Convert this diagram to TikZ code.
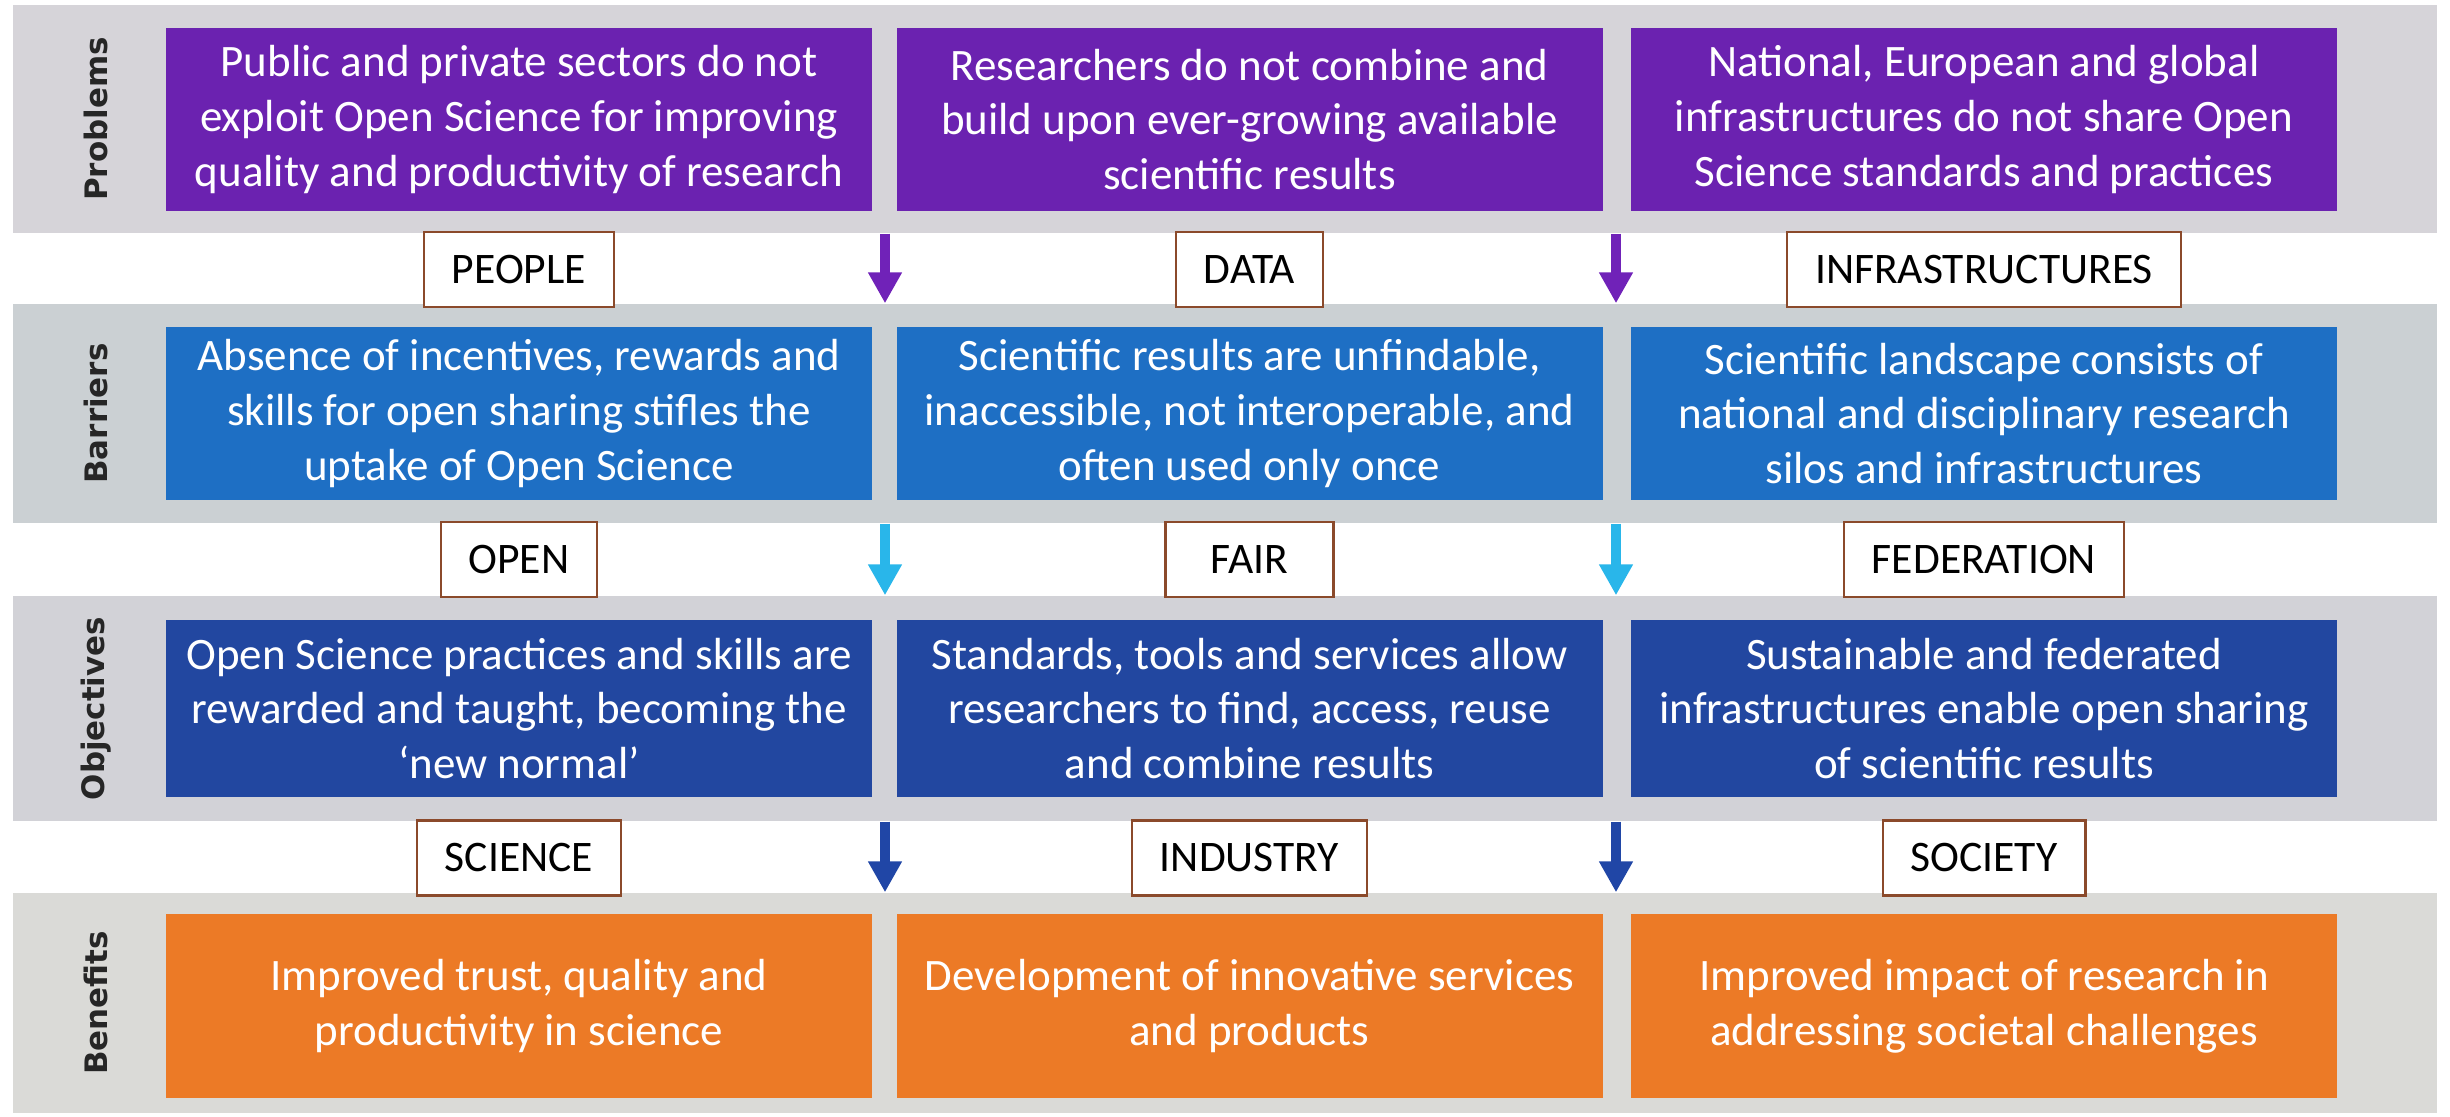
\documentclass[tikz,border=0pt]{standalone}
\usepackage{fontspec}
\setmainfont{Carlito}
\newfontfamily\rowfont{DejaVu Sans}
\usetikzlibrary{arrows.meta}

\definecolor{bandP}{HTML}{D6D4D9}
\definecolor{bandB}{HTML}{CBD0D3}
\definecolor{bandO}{HTML}{D2D2D7}
\definecolor{bandF}{HTML}{DADAD7}
\definecolor{probfill}{HTML}{6B22B0}
\definecolor{barfill}{HTML}{1E6FC4}
\definecolor{objfill}{HTML}{2247A0}
\definecolor{benfill}{HTML}{EC7A26}
\definecolor{arrP}{HTML}{7022B8}
\definecolor{arrB}{HTML}{29B6EA}
\definecolor{arrO}{HTML}{2046A6}
\definecolor{tagline}{HTML}{8B4A2B}

\begin{document}
\begin{tikzpicture}[
  band/.style={fill=#1, minimum width=24.24cm, inner sep=0pt},
  box/.style={fill=#1, text=white, minimum width=7.06cm, inner sep=0pt, align=center,
    font=\fontsize{12.8}{15.6}\selectfont},
  rowlab/.style={rotate=90, text=black!85, font=\rowfont\bfseries\fontsize{8.8}{10}\selectfont},
  tag/.style={draw=tagline, fill=white, line width=0.6pt, minimum height=0.75cm,
    inner xsep=0.28cm, font=\fontsize{12.4}{14}\selectfont},
  arr/.style={draw=#1, line width=0.1cm, -{Triangle[width=0.32cm,length=0.31cm]}}
]
\useasboundingbox (0,0) rectangle (24.5,11.16);

\node[band=bandP, minimum height=2.28cm] (band1) at (12.25,9.97) {};
\node[band=bandB, minimum height=2.19cm] (band2) at (12.25,7.025) {};
\node[band=bandO, minimum height=2.25cm] (band3) at (12.25,4.075) {};
\node[band=bandF, minimum height=2.20cm] (band4) at (12.25,1.13) {};

\node[rowlab] (lab1) at (0.96,9.97) {Problems};
\node[rowlab] (lab2) at (0.96,7.025) {Barriers};
\node[rowlab] (lab3) at (0.96,4.075) {Objectives};
\node[rowlab] (lab4) at (0.96,1.13) {Benefits};

\node[box=probfill, minimum height=1.83cm] (p1) at (5.19,9.965) {Public and private sectors do not\\exploit Open Science for improving\\quality and productivity of research};
\node[box=probfill, minimum height=1.83cm] (p2) at (12.495,9.965) {Researchers do not combine and\\build upon ever-growing available\\scientific results};
\node[box=probfill, minimum height=1.83cm] (p3) at (19.84,9.965) {National, European and global\\infrastructures do not share Open\\Science standards and practices};

\node[box=barfill, minimum height=1.73cm] (b1) at (5.19,7.025) {Absence of incentives, rewards and\\skills for open sharing stifles the\\uptake of Open Science};
\node[box=barfill, minimum height=1.73cm] (b2) at (12.495,7.025) {Scientific results are unfindable,\\inaccessible, not interoperable, and\\often used only once};
\node[box=barfill, minimum height=1.73cm] (b3) at (19.84,7.025) {Scientific landscape consists of\\national and disciplinary research\\silos and infrastructures};

\node[box=objfill, minimum height=1.77cm] (o1) at (5.19,4.075) {Open Science practices and skills are\\rewarded and taught, becoming the\\`new normal'};
\node[box=objfill, minimum height=1.77cm] (o2) at (12.495,4.075) {Standards, tools and services allow\\researchers to find, access, reuse\\and combine results};
\node[box=objfill, minimum height=1.77cm] (o3) at (19.84,4.075) {Sustainable and federated\\infrastructures enable open sharing\\of scientific results};

\node[box=benfill, minimum height=1.84cm] (f1) at (5.19,1.10) {Improved trust, quality and\\productivity in science};
\node[box=benfill, minimum height=1.84cm] (f2) at (12.495,1.10) {Development of innovative services\\and products};
\node[box=benfill, minimum height=1.84cm] (f3) at (19.84,1.10) {Improved impact of research in\\addressing societal challenges};

\node[tag] (t11) at (5.19,8.465) {PEOPLE};
\node[tag] (t12) at (12.495,8.465) {DATA};
\node[tag] (t13) at (19.84,8.465) {INFRASTRUCTURES};
\node[tag] (t21) at (5.19,5.565) {OPEN};
\node[tag, minimum width=1.68cm] (t22) at (12.495,5.565) {FAIR};
\node[tag] (t23) at (19.84,5.565) {FEDERATION};
\node[tag] (t31) at (5.19,2.58) {SCIENCE};
\node[tag] (t32) at (12.495,2.58) {INDUSTRY};
\node[tag] (t33) at (19.84,2.58) {SOCIETY};

\coordinate (g1) at (8.85,0);
\coordinate (g2) at (16.16,0);
\draw[arr=arrP] (band1.south -| g1) -- (band2.north -| g1);
\draw[arr=arrP] (band1.south -| g2) -- (band2.north -| g2);
\draw[arr=arrB] (band2.south -| g1) -- (band3.north -| g1);
\draw[arr=arrB] (band2.south -| g2) -- (band3.north -| g2);
\draw[arr=arrO] (band3.south -| g1) -- (band4.north -| g1);
\draw[arr=arrO] (band3.south -| g2) -- (band4.north -| g2);
\end{tikzpicture}
\end{document}
